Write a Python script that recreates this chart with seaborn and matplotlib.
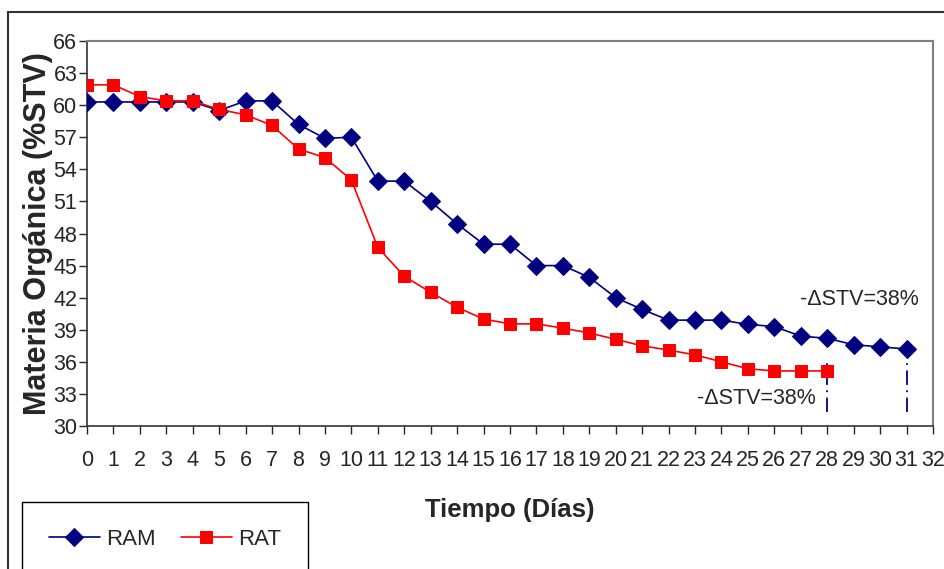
import pandas as pd
import matplotlib
matplotlib.use("Agg")
import matplotlib.pyplot as plt
import seaborn as sns
from matplotlib.patches import Rectangle

dias_ram = list(range(0, 32))
ram = [60.3, 60.3, 60.3, 60.3, 60.3, 59.5, 60.4, 60.4, 58.2, 56.9,
       57.0, 52.9, 52.9, 51.0, 48.9, 47.0, 47.0, 45.0, 45.0, 43.9,
       42.0, 40.9, 39.9, 39.9, 39.9, 39.5, 39.3, 38.4, 38.2, 37.6,
       37.4, 37.2]

dias_rat = list(range(0, 29))
rat = [61.9, 61.9, 60.8, 60.4, 60.4, 59.6, 59.1, 58.1, 55.9, 55.1,
       53.0, 46.7, 44.0, 42.5, 41.1, 40.0, 39.55, 39.55, 39.15, 38.7,
       38.1, 37.5, 37.1, 36.65, 36.0, 35.35, 35.15, 35.15, 35.15]

y_ticks = list(range(30, 67, 3))
x_ticks = list(range(0, 33))

sns.set_style("white")
plt.rcParams['font.family'] = ['Liberation Sans', 'DejaVu Sans']

fig = plt.figure(figsize=(9.45, 5.69), dpi=100)
ax = fig.add_axes([87 / 945, 1 - 426 / 569, (933 - 87) / 945, (426 - 41) / 569])

# outer chart border (only top and left fall inside the picture)
fig.patches.append(Rectangle((8 / 945, -0.1), 1.2, 1.1 - 12 / 569,
                             transform=fig.transFigure, fill=False,
                             edgecolor="#333333", linewidth=1.5))

df_ram = pd.DataFrame({"dia": dias_ram, "valor": ram})
df_rat = pd.DataFrame({"dia": dias_rat, "valor": rat})

sns.lineplot(data=df_ram, x="dia", y="valor", ax=ax, color="#000080",
             marker="D", markersize=9, markeredgecolor="#000080",
             linewidth=1.2, label="RAM", zorder=3)
sns.lineplot(data=df_rat, x="dia", y="valor", ax=ax, color="#FF0000",
             marker="s", markersize=8.5, markeredgecolor="#FF0000",
             linewidth=1.2, label="RAT", zorder=4)

# dash-dot markers at the end days
ax.plot([28, 28], [31.3, 35.9], color="#000080", linestyle=(0, (8, 3, 1, 3)),
        linewidth=1.3, zorder=2)
ax.plot([31, 31], [31.3, 36.0], color="#000080", linestyle=(0, (8, 3, 1, 3)),
        linewidth=1.3, zorder=2)

ax.text(31.45, 41.8, "-\u0394STV=38%", ha="right", va="center", fontsize=15.5)
ax.text(27.55, 32.6, "-\u0394STV=38%", ha="right", va="center", fontsize=15.5)

ax.set_xlim(0, 32)
ax.set_ylim(30, 66)
ax.set_xticks(x_ticks)
ax.set_yticks(y_ticks)
ax.tick_params(axis="x", direction="out", length=6, width=1, pad=11,
               labelsize=15.5, bottom=True)
ax.tick_params(axis="y", direction="out", length=6, width=1, pad=1,
               labelsize=15.5, left=True)

for side in ["top", "right"]:
    ax.spines[side].set_color("#808080")
    ax.spines[side].set_linewidth(1.5)
for side in ["left", "bottom"]:
    ax.spines[side].set_color("#333333")
    ax.spines[side].set_linewidth(1.2)

ax.set_xlabel("Tiempo (Días)", fontsize=18.5, fontweight="bold", labelpad=20)
ax.set_ylabel("Materia Orgánica (%STV)", fontsize=22, fontweight="bold", labelpad=0)

ax.legend(loc="upper left", bbox_to_anchor=(22 / 945, 1 - 502 / 569),
          bbox_transform=fig.transFigure, ncol=2, frameon=True,
          fancybox=False, edgecolor="black", fontsize=16,
          handlelength=2.3, handletextpad=0.3, columnspacing=1.1,
          borderpad=1.2, borderaxespad=0, framealpha=1)

fig.savefig("out.png", dpi=100)
